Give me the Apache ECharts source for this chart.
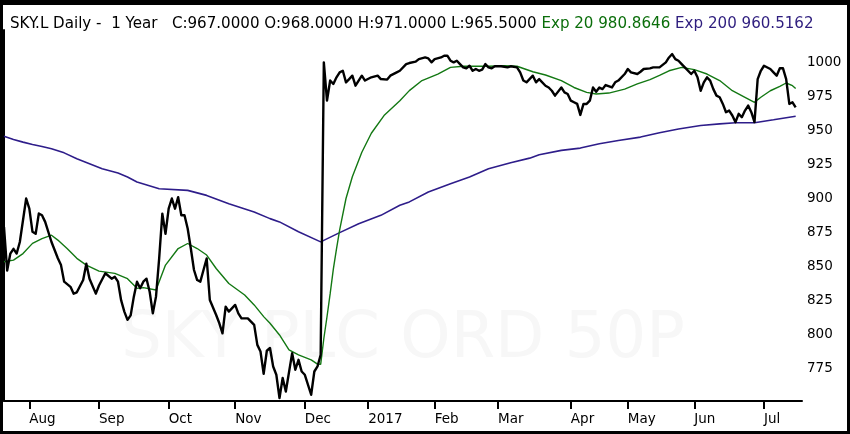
<!DOCTYPE html>
<html>
<head>
<meta charset="utf-8">
<script src="https://cdn.jsdelivr.net/npm/echarts@6.0.0/dist/echarts.min.js"></script>
<style>
html,body{margin:0;padding:0;background:#fff;}
#chart{width:850px;height:434px;}
</style>
</head>
<body>
<div id="chart"></div>
<script>
// Month tick labels and the trading-day index at which each month starts
const monthLabels = ['Aug','Sep','Oct','Nov','Dec','2017','Feb','Mar','Apr','May','Jun','Jul'];
const monthStartDay = [8,30,52,73,95,115,136,156,179,197,218,240];
const yTicks = [775,800,825,850,875,900,925,950,975,1000];

// Daily close (trading-day index, price)
const priceDay = [0,1,2,3,4,5,7,8,9,10,11,12,13,15,17,18,19,21,22,23,25,26,27,29,30,32,34,35,36,37,38,39,40,41,42,43,44,45,46,47,48,49,50,51,52,53,54,55,56,57,58,59,60,61,62,63,64,65,67,68,69,70,71,73,74,75,77,79,80,81,82,83,84,85,86,87,88,89,91,92,93,94,95,97,98,99,100,
101,102,103,104,105,106,107,108,109,110,111,112,113,114,116,118,119,121,122,124,125,127,128,130,131,133,134,135,136,138,139,140,141,142,143,144,145,146,147,148,149,150,151,152,153,154,155,157,159,160,162,
163,164,165,167,168,169,171,172,173,174,176,177,178,179,180,181,182,183,184,185,186,187,188,189,190,192,193,194,196,197,198,200,201,202,204,205,207,209,210,211,212,213,214,215,217,218,219,220,221,222,223,224,225,226,227,228,229,230,231,232,233,234,235,236,237,238,239,240,242,243,244,245,246,247,248,249,250];
const priceClose = [879,847,859.5,863,859.5,868,900,892.5,875.5,874,889,887.7,882.8,868,856,851,838.8,835,830,831,840,852,841,830,836,845,841,842.4,838.8,825,816.8,810.7,814,827.8,838.8,834,838.8,841,831.4,815.5,827.8,855.9,888.9,874,892.5,900,892.5,901,887.7,887.7,877.9,863.2,847.4,840,838.8,847.4,855.9,825.3,814.3,808.2,800.8,820.4,816.8,821.7,815.5,811.8,811.8,807,792.3,787.4,771,788,790,776.4,770.3,753.2,767.9,758,786.2,774,781.3,772.7,770.3,755.6,772.7,776.4,785,
1000.2,972,986.8,984.3,989.2,992.8,994,985.5,987.9,990.4,983,986.8,990.4,986.8,989.2,990.4,987.9,987.5,990.4,992.8,994,998.9,999.7,1000.7,1002.6,1003.8,1003.1,1000.2,1002.6,1003.8,1005.1,1005.1,1001.4,1000.2,1001.4,998.9,996.5,995.8,997.7,994,995.3,994,994.8,998.9,996.5,995.8,997.3,997.3,996.5,997.3,996.5,
992.8,986.8,985.5,990.4,985.5,987.9,983,981.7,979.3,975.7,981.7,978.1,976.9,972,970.8,969.6,961.5,969.6,969.6,972,981.7,978.6,981.7,980.5,983.5,981.7,985.5,986.8,991.6,995.3,992.8,991.6,993.3,995.3,995.8,996.5,996.5,1000.2,1003.8,1006.3,1002.6,1001.4,998.9,996.5,991.6,994,989.2,979.3,985.5,989.2,986.8,980.5,975.7,974.5,969.6,963.5,964.7,961.1,956.2,962.3,959.8,964.7,968.4,963.5,956.2,987.9,994,997.7,995.3,992.8,990.4,995.8,995.8,987.9,969.6,970.8,967];

// Exp 20 moving average
const ema20Day = [0,3,6,9,12,15,17,20,23,26,30,35,39,42,44,48,51,55,58,61,64,67,71,76,79,82,84,87,90,93,97,99,100,101,102,103,104,105,106,108,110,113,116,120,125,128,132,137,141,145,149,153,158,162,167,171,176,180,184,187,191,196,200,204,207,210,214,218,222,226,230,234,237,239,242,245,247,249,250];
const ema20 = [853.5,854.7,859.5,867,870.5,873,869.4,863,856,851,846.6,844.9,841,833.9,834.4,832.7,851,863.2,866.9,863.2,858.4,848.5,837.5,829,821.7,813.1,808.2,799.6,788.7,785,781.3,778.1,778,797,813,830,848,863,877,900,916,934,948,961,972,979.4,986.8,991.6,996.5,997.3,997.3,997.3,997.7,997.3,993.3,990.9,986.8,981.7,978.1,976.9,977.6,980.5,984.3,987.5,990.6,994,996.5,994.8,991.6,986.8,979.3,974.5,970.8,974.5,979.3,982.5,985,983,980.9];

// Exp 200 moving average
const ema200Day = [0,3,6,9,12,15,19,23,27,31,36,39,42,49,58,64,71,79,84,87,93,100,106,112,119,125,128,134,141,147,153,160,166,169,176,182,188,194,201,207,213,220,226,231,237,243,250];
const ema200 = [945.9,943.5,941.5,939.8,938.3,936.6,933.6,929.2,925.6,921.9,918.7,915.8,912.1,907.2,906,902.3,896.2,890.1,885.2,882.8,875.5,868.1,874.9,881.5,887.6,895,897.5,904.8,910.9,915.8,921.9,926.3,929.7,932.2,935.4,937.1,940.3,942.7,945.2,948.4,951.2,953.7,954.9,955.7,955.7,957.9,960.5];

const pairs = (xs, ys) => xs.map((x, i) => [x, ys[i]]);

const chart = echarts.init(document.getElementById('chart'), null, {renderer: 'canvas'});
const FONT = 'DejaVu Sans';
const HF = 15.1;
chart.setOption({
  animation: false,
  backgroundColor: '#ffffff',
  title: {
    left: 5, top: 12,
    text: '{a|SKY.L Daily -  1 Year   C:967.0000 O:968.0000 H:971.0000 L:965.5000} {g|Exp 20 980.8646} {p|Exp 200 960.5162}',
    textStyle: {
      fontFamily: FONT, fontSize: HF, fontWeight: 'normal',
      rich: {
        a: {color: '#000000', fontFamily: FONT, fontSize: HF},
        g: {color: '#0b6e0b', fontFamily: FONT, fontSize: HF},
        p: {color: '#2e1d7e', fontFamily: FONT, fontSize: HF}
      }
    }
  },
  grid: {left: 4, top: 30, width: 798, bottom: 33},
  xAxis: {
    type: 'value', min: 0, max: 252,
    splitLine: {show: false},
    axisLine: {show: true, onZero: false, lineStyle: {color: '#000', width: 2}},
    axisTick: {show: true, customValues: monthStartDay, length: 8, lineStyle: {color: '#000', width: 2}},
    axisLabel: {
      customValues: monthStartDay,
      formatter: v => monthLabels[monthStartDay.indexOf(v)],
      align: 'left', margin: 11, color: '#000', fontSize: 13.5, fontFamily: FONT
    }
  },
  yAxis: {
    type: 'value', position: 'right', min: 751, max: 1024,
    splitLine: {show: false},
    axisLine: {show: true, lineStyle: {color: '#000', width: 2}},
    axisTick: {show: false},
    axisLabel: {customValues: yTicks, formatter: v => String(v), margin: 5, color: '#000', fontSize: 13.5, fontFamily: FONT}
  },
  graphic: [
    {type: 'text', z: -10, x: 403, y: 340,
     style: {text: 'SKY PLC ORD 50P', fontSize: 64, fontFamily: FONT, fill: '#f7f7f7', align: 'center', verticalAlign: 'middle'}},
    {type: 'rect', z: 100, shape: {x: 0, y: 0, width: 850, height: 5}, style: {fill: '#000'}},
    {type: 'rect', z: 100, shape: {x: 0, y: 0, width: 3, height: 434}, style: {fill: '#000'}},
    {type: 'rect', z: 100, shape: {x: 847, y: 0, width: 3, height: 434}, style: {fill: '#000'}},
    {type: 'rect', z: 100, shape: {x: 0, y: 431, width: 850, height: 3}, style: {fill: '#000'}}
  ],
  series: [
    {name: 'Exp 200', type: 'line', showSymbol: false, data: pairs(ema200Day, ema200),
     lineStyle: {color: '#2e1d8a', width: 1.6}, z: 3},
    {name: 'Exp 20', type: 'line', showSymbol: false, data: pairs(ema20Day, ema20),
     lineStyle: {color: '#137813', width: 1.4}, z: 4},
    {name: 'SKY.L', type: 'line', showSymbol: false, data: pairs(priceDay, priceClose),
     lineStyle: {color: '#000', width: 2.4, join: 'round'}, z: 5}
  ]
});
</script>
</body>
</html>
